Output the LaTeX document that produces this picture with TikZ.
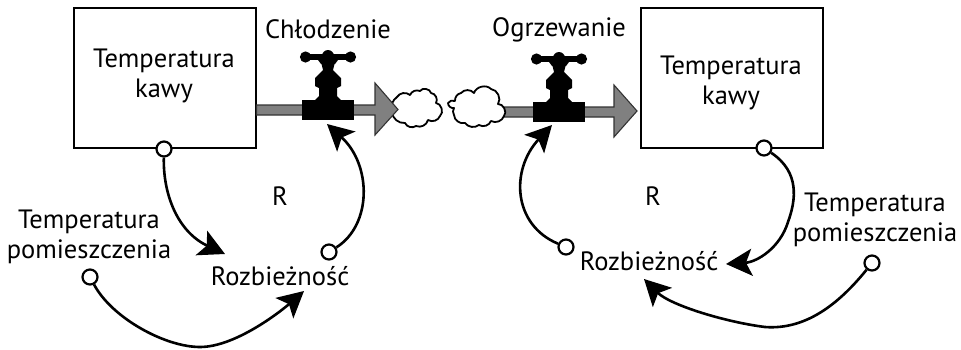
\documentclass[tikz,border=0pt]{standalone}
\usepackage{fontspec}
\setmainfont{PT Sans}
\usetikzlibrary{arrows.meta}
\tikzset{
 box/.style={draw=black,line width=1.5pt,fill=white},
 lab/.style={font=\fontsize{26.5}{29.5}\selectfont,align=center,inner sep=0pt},
 circ/.style={circle,draw=black,line width=2.2pt,fill=white,minimum size=15pt,inner sep=0pt},
 link/.style={line width=2.6pt,-{Stealth[length=26pt,width=27pt,inset=6pt]}},
 flow/.style={draw=black!80,fill=black!50,line width=1.1pt,line join=miter},
 cloudy/.style={draw=black,fill=white,line width=1.8pt,line join=round}
}
\newcommand{\valveshape}[2]{%
 \begin{scope}[shift={(#1,#2)}]
  \fill[black] (-26,63) rectangle (26,43);
  \fill[black] (-14,44) -- (-9,39) -- (-9,31) -- (-13,29) -- (-13,21) -- (-5,13) -- (-7,5) -- (7,5) -- (5,13) -- (13,21) -- (13,29) -- (9,31) -- (9,39) -- (14,44) -- cycle;
  \fill[black] (-23,-3) rectangle (23,3);
  \fill[black] (-22.5,0) circle[radius=5.6];
  \fill[black] (22.5,0) circle[radius=5.6];
  \fill[black] (0,-1) circle[radius=6];
  \fill[black] (-10,3) -- (10,3) -- (7,7) -- (-7,7) -- cycle;
 \end{scope}}
\begin{document}
\begin{tikzpicture}[x=1pt,y=-1pt]
\useasboundingbox (0,0) rectangle (961,349);
% boxes
\node[box,minimum width=182pt,minimum height=140pt,anchor=north west] (b1) at (73,7) {};
\node[box,minimum width=182pt,minimum height=140pt,anchor=north west] (b2) at (640,7) {};
\node[lab] (t1) at (164,76) {Temperatura\\kawy};
\node[lab] (t2) at (731,83) {Temperatura\\kawy};
% clouds
\draw[cloudy] (392,112) to[bend left=35] (397,97) to[bend left=50] (410,95) to[bend left=45] (420,91) to[bend left=70] (431,93) to[bend left=60] (436,103) to[bend left=70] (440,116) to[bend left=50] (428,120) to[bend left=50] (416,126) to[bend left=50] (405,123) to[bend left=45] (392,112) -- cycle;
% flows
\draw[flow] (b1.east |- 0,105) -- (375,105) -- (375,83) -- (398,109.5) -- (375,135) -- (375,115) -- (b1.east |- 0,115) -- cycle;
\draw[flow] (490,107) -- (614,107) -- (614,85) -- (637,111) -- (614,137) -- (614,117) -- (490,117) -- cycle;
\draw[cloudy] (448,103) to[bend left=40] (455,101) to[bend left=40] (461,93) to[bend left=50] (474,93) to[bend left=60] (491,89) to[bend left=60] (498,104) to[bend left=70] (504,116) to[bend left=50] (491,121) to[bend left=50] (479,125) to[bend left=45] (465,123) to[bend left=50] (454,115) to[bend left=30] (454,108) to[bend left=50] (448,103) -- cycle;
% valves
\valveshape{328}{57}
\valveshape{559}{59}
% labels
\node[lab] (c) at (328,29) {Chłodzenie};
\node[lab] (o) at (559,30) {Ogrzewanie};
\node[lab] (r1) at (280,196) {R};
\node[lab] (r2) at (653,196) {R};
\node[lab] (tp1) at (89,237) {Temperatura\\pomieszczenia};
\node[lab] (tp2) at (875,220) {Temperatura\\pomieszczenia};
\node[lab] (d1) at (280,276) {Rozbieżność};
\node[lab] (d2) at (649,261) {Rozbieżność};
% circles
\node[circ] (c1) at (164,149) {};
\node[circ] (c2) at (329,252) {};
\node[circ] (c3) at (90,277) {};
\node[circ] (c4) at (566,247) {};
\node[circ] (c5) at (764,148) {};
\node[circ] (c6) at (872,263) {};
% targets
\coordinate (a1) at (225,254);
\coordinate (a2) at (304,291);
\coordinate (a3) at (327,124);
\coordinate (a4) at (552,125);
\coordinate (a5) at (726,264);
\coordinate (a6) at (644,279);
% connectors
\draw[link] (c1) .. controls (163,195) and (178,232) .. (a1);
\draw[link] (c3) .. controls (112,318) and (165,347) .. (200,347) .. controls (235,347) and (280,312) .. (a2);
\draw[link] (c2) .. controls (372,225) and (372,165) .. (a3);
\draw[link] (c4) .. controls (513,225) and (510,170) .. (a4);
\draw[link] (c5) .. controls (800,172) and (796,200) .. (788,222) .. controls (780,248) and (757,262) .. (a5);
\draw[link] (c6) .. controls (838,305) and (805,330) .. (765,327) .. controls (725,322) and (670,305) .. (a6);
\end{tikzpicture}
\end{document}
